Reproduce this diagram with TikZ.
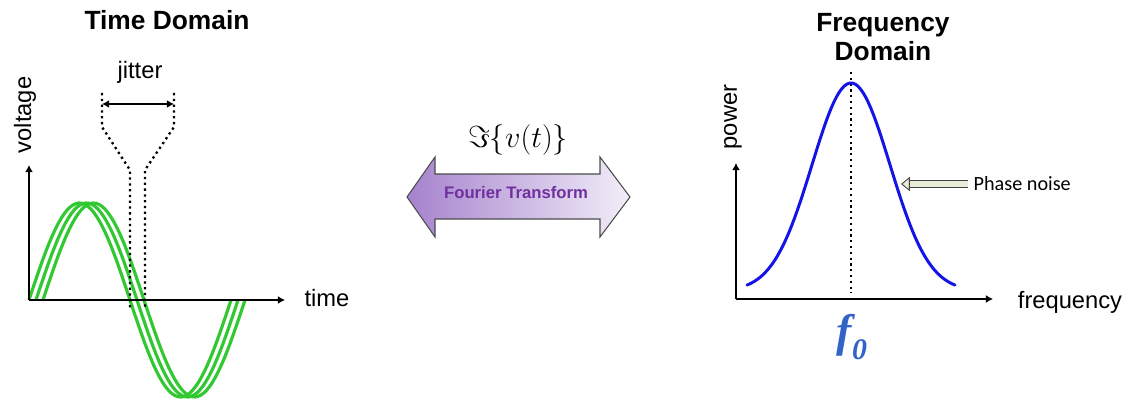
\documentclass[tikz,border=0pt]{standalone}
\usepackage{fontspec}
\setmainfont{Liberation Sans}
\newfontfamily\pnfont{Carlito}
\newfontfamily\timesfont{Liberation Serif}
\usetikzlibrary{arrows.meta, positioning, calc}
\definecolor{wavegreen}{RGB}{50, 200, 50}
\definecolor{specblue}{RGB}{20, 20, 230}
\definecolor{fzeroblue}{RGB}{50, 100, 200}
\definecolor{ftleft}{RGB}{165, 130, 205}
\definecolor{ftright}{RGB}{242, 238, 248}
\definecolor{fttext}{RGB}{112, 48, 160}
\definecolor{pnfill}{RGB}{232, 235, 215}

\begin{document}
\begin{tikzpicture}[x=0.02cm, y=-0.02cm,
    title/.style={font=\fontsize{15}{17}\selectfont\bfseries, align=center},
    axislabel/.style={font=\fontsize{13.5}{16}\selectfont},
    axis/.style={-{Latex[length=4pt, width=4.5pt]}, line width=1pt},
    jitterarrow/.style={{Latex[length=4pt, width=4.5pt]}-{Latex[length=4pt, width=4.5pt]}, line width=1pt},
    wave/.style={wavegreen, line width=1.8pt},
    guide/.style={dotted, line width=1.3pt},
    gauss/.style={specblue, line width=1.7pt, line cap=round},
    ftarrow/.style={draw=gray!60!black, line width=0.6pt, left color=ftleft, right color=ftright},
    ftlabel/.style={text=fttext, font=\fontsize{9.5}{11}\selectfont\bfseries},
    pnarrow/.style={draw=black!75, line width=0.5pt, double=pnfill, double distance=3pt,
      -{Triangle[open, fill=pnfill, length=5pt, width=8pt]}},
    fzero/.style={text=fzeroblue, font=\timesfont\fontsize{26}{30}\selectfont\bfseries\itshape}
  ]
  \useasboundingbox (0,0) rectangle (1139,402);

  % Time domain
  \node[title] (tdtitle) at (167,20) {Time Domain};
  \coordinate (to) at (29,300);
  \coordinate (ty) at (29,165);
  \coordinate (tx) at (285,300);
  \foreach \s in {0,7,14}
    \draw[wave] plot[domain=0:360, samples=70] ({29+\s+\x/360*202}, {300-97*sin(\x)});
  \draw[axis] (to) -- (ty);
  \draw[axis] (to) -- (tx);
  \node[axislabel, rotate=90] (volt) at (25,115) {voltage};
  \node[axislabel] (time) at (327,298) {time};

  % Jitter window
  \draw[guide] (102,93) -- (102,127) -- (130,170) -- (130,308);
  \draw[guide] (174,93) -- (174,127) -- (145,170) -- (145,308);
  \coordinate (jl) at (102,104);
  \coordinate (jr) at (174,104);
  \draw[jitterarrow] (jl) -- (jr);
  \node[axislabel] (jit) at (140,72) {jitter};

  % Transform
  \path[ftarrow] (407,197) -- (435,157) -- (435,174) -- (600,174) -- (600,157) -- (630,197)
    -- (600,237) -- (600,219) -- (435,219) -- (435,237) -- cycle;
  \node[ftlabel] (ft) at (516,193) {Fourier Transform};
  \node[font=\fontsize{17}{20}\selectfont] (ftsym) at (518,140) {$\Im\{v(t)\}$};

  % Frequency domain
  \node[title] (fdtitle) at (883,37) {Frequency\\Domain};
  \coordinate (fo) at (736,299);
  \coordinate (fy) at (736,163);
  \coordinate (fx) at (993,299);
  \coordinate (peaktop) at (851,72);
  \coordinate (peakbase) at (851,293);
  \draw[guide] (peaktop) -- (peakbase);
  \draw[gauss] plot[domain=-104:104, samples=80] ({851+\x}, {291-208*exp(-(\x*\x)/3042)});
  \draw[axis] (fo) -- (fy);
  \draw[axis] (fo) -- (fx);
  \node[axislabel, rotate=90] (pow) at (733,117) {power};
  \node[axislabel] (freq) at (1070,302) {frequency};
  \node[fzero] (f0) at (852,337) {f\raisebox{-0.3em}{\fontsize{17}{20}\selectfont 0}};

  % Phase noise
  \coordinate (pntip) at (901,184);
  \node[font=\pnfont\fontsize{11.5}{13}\selectfont, anchor=west, inner sep=3pt] (pn) at (968,184) {Phase noise};
  \draw[pnarrow] (pn) -- (pntip);
\end{tikzpicture}
\end{document}
